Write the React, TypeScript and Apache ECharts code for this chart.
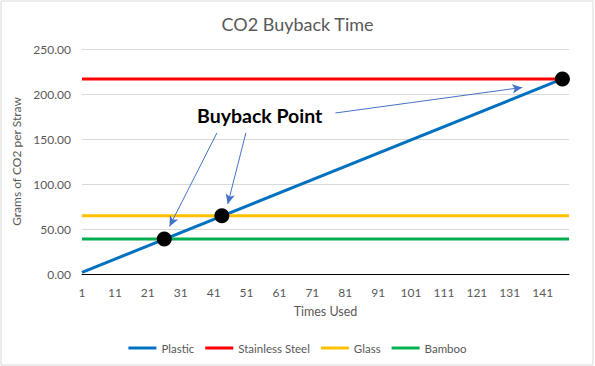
import React, { useEffect, useRef } from "react";
import * as echarts from "echarts";

const TITLE = "CO2 Buyback Time";
const X_NAME = "Times Used";
const Y_NAME = "Grams of CO2 per Straw";
const X_MIN = 1;
const X_MAX = 149;
const X_TICKS = [1, 11, 21, 31, 41, 51, 61, 71, 81, 91, 101, 111, 121, 131, 141];
const Y_MAX = 250;
const Y_STEP = 50;

// [times used, grams CO2]
const plastic = [[1, 1.8], [147, 216.7]];
const stainlessSteel = [[1, 216.7], [149, 216.7]];
const glass = [[1, 64.8], [149, 64.8]];
const bamboo = [[1, 38.9], [149, 38.9]];
const buybackPoints = [[26, 38.9], [43.5, 64.8], [147, 216.7]];
// annotation arrows: [fromX, fromY, toX, toY] in data units
const arrows = [
  [42, 156.7, 27.6, 52.9],
  [50.8, 156.7, 45.3, 77.8],
  [78, 178.9, 134.8, 207.3],
];

const FONT = "Lato";

export default function App() {
  const ref = useRef<HTMLDivElement>(null);
  useEffect(() => {
    const chart = echarts.init(ref.current!, null, { renderer: "svg" });
    const lineSeries = (name: string, data: number[][], color: string) => ({
      name,
      type: "line",
      data,
      showSymbol: false,
      symbol: "none",
      lineStyle: { color, width: 3 },
      itemStyle: { color },
      silent: true,
    });
    chart.setOption({
      animation: false,
      textStyle: { fontFamily: FONT },
      title: {
        text: TITLE,
        left: "center",
        top: 10,
        textStyle: { fontSize: 18, fontWeight: "normal", color: "#595959", fontFamily: FONT },
      },
      grid: { left: 82, top: 49, width: 487, height: 225, containLabel: false },
      legend: {
        data: ["Plastic", "Stainless Steel", "Glass", "Bamboo"],
        left: "center",
        top: 337,
        icon: "rect",
        itemWidth: 28,
        itemHeight: 3,
        itemGap: 11,
        textStyle: { fontSize: 11.5, color: "#595959", fontFamily: FONT },
      },
      xAxis: {
        type: "value",
        min: X_MIN,
        max: X_MAX,
        name: X_NAME,
        nameLocation: "middle",
        nameGap: 31,
        nameTextStyle: { fontSize: 12.5, color: "#595959", fontFamily: FONT },
        axisLine: { show: true, lineStyle: { color: "#000", width: 1 } },
        axisTick: { show: false },
        splitLine: { show: false },
        axisLabel: {
          customValues: X_TICKS,
          color: "#595959",
          fontSize: 12,
          margin: 12,
        },
      },
      yAxis: {
        type: "value",
        min: 0,
        max: Y_MAX,
        interval: Y_STEP,
        name: Y_NAME,
        nameLocation: "middle",
        nameRotate: 90,
        nameGap: 46,
        nameTextStyle: { fontSize: 12, color: "#595959", fontFamily: FONT },
        axisLine: { show: false },
        axisTick: { show: false },
        splitLine: { lineStyle: { color: "#d9d9d9", width: 1 } },
        axisLabel: {
          color: "#595959",
          fontSize: 12,
          margin: 11,
          formatter: (v: number) => v.toFixed(2),
        },
      },
      series: [
        lineSeries("Plastic", plastic, "#0070C0"),
        lineSeries("Stainless Steel", stainlessSteel, "#FF0000"),
        lineSeries("Glass", glass, "#FFC000"),
        lineSeries("Bamboo", bamboo, "#00B050"),
        {
          name: "Buyback",
          type: "scatter",
          data: buybackPoints,
          symbolSize: 15,
          itemStyle: { color: "#000", opacity: 1 },
          silent: true,
          z: 5,
          markLine: {
            silent: true,
            symbol: ["none", "arrow"],
            symbolSize: [7, 10],
            lineStyle: { color: "#4472C4", width: 1, type: "solid", opacity: 1 },
            label: { show: false },
            data: arrows.map((a) => [{ coord: [a[0], a[1]] }, { coord: [a[2], a[3]] }]),
          },
        },
      ],
      graphic: [
        {
          type: "rect",
          shape: { x: 1, y: 1, width: 592, height: 364 },
          style: { fill: "none", stroke: "#d9d9d9", lineWidth: 1 },
          silent: true,
        },
        {
          type: "text",
          left: 197,
          top: 105,
          style: { text: "Buyback Point", font: `bold 19.5px ${FONT}`, fill: "#000" },
          silent: true,
        },
      ],
    });
    return () => chart.dispose();
  }, []);
  return (
    <div
      ref={ref}
      style={{ position: "absolute", left: 0, top: 0, width: 595, height: 366, background: "#fff" }}
    />
  );
}
